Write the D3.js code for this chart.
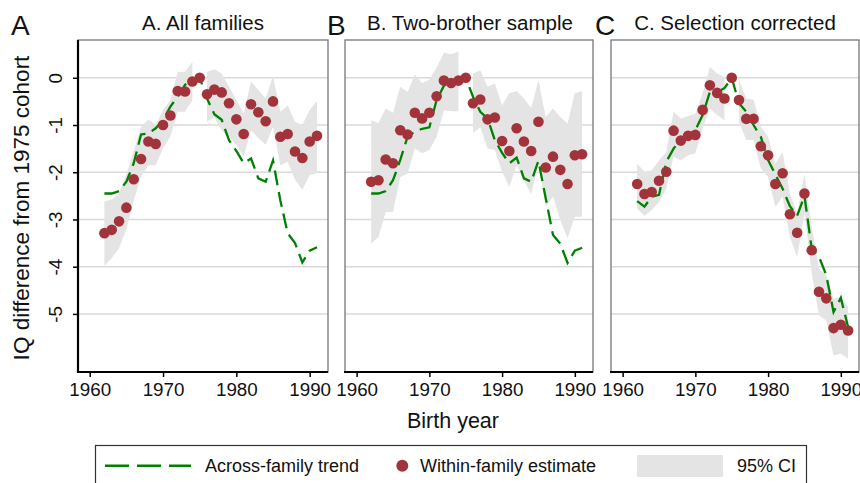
<!DOCTYPE html>
<html>
<head>
<meta charset="utf-8">
<script src="https://cdn.jsdelivr.net/npm/d3@7"></script>
<style>
  body { margin: 0; background: #fff; }
  svg { display: block; }
  text { font-family: 'Liberation Sans', Arial, Helvetica, sans-serif; fill: #111; }
</style>
</head>
<body>
<svg id="chart" width="860" height="483"></svg>
<script>
// birth cohorts
const years = [1962, 1963, 1964, 1965, 1966, 1967, 1968, 1969, 1970, 1971,
               1972, 1973, 1974, 1975, 1976, 1977, 1978, 1979, 1980, 1981,
               1982, 1983, 1984, 1985, 1986, 1987, 1988, 1989, 1990, 1991];

// A. All families
const aEst   = [-3.29, -3.22, -3.04, -2.75, -2.15, -1.72, -1.35, -1.40, -1.00, -0.80,
                -0.28, -0.29, -0.08, 0, -0.35, -0.25, -0.31, -0.54, -0.88, -1.19,
                -0.56, -0.73, -0.92, -0.50, -1.25, -1.19, -1.56, -1.70, -1.35, -1.23];
const aTrend = [-2.45, -2.45, -2.40, -2.20, -1.81, -1.20, -1.18, -1.07, -0.89, -0.61,
                -0.40, -0.15, -0.05, 0, -0.44, -0.77, -0.89, -1.32, -1.55, -1.81,
                -1.71, -2.13, -2.20, -1.75, -2.60, -3.29, -3.50, -3.91, -3.66, -3.59];
const aHi    = [-2.62, -2.57, -2.45, -2.05, -1.55, -1.04, -0.88, -1.00, -0.68, -0.47,
                0.13, 0.13, 0.34, null, 0.13, 0.18, 0.09, -0.19, -0.47, -0.75,
                -0.08, -0.26, -0.44, 0.04, -0.72, -0.58, -0.93, -1.00, -0.68, -0.49];
const aLo    = [-3.98, -3.82, -3.61, -3.20, -2.60, -2.10, -1.85, -1.85, -1.49, -1.25,
                -0.72, -0.72, -0.47, null, -0.93, -0.84, -1.11, -1.25, -1.42, -1.67,
                -1.11, -1.28, -1.42, -1.04, -1.85, -1.78, -2.16, -2.37, -2.06, -2.02];

// B. Two-brother sample
const bEst   = [-2.20, -2.17, -1.73, -1.81, -1.11, -1.20, -0.74, -0.86, -0.74, -0.39,
                -0.06, -0.11, -0.06, 0, -0.54, -0.46, -0.88, -0.84, -1.34, -1.55,
                -1.07, -1.35, -1.55, -0.93, -1.90, -1.67, -1.95, -2.25, -1.64, -1.62];
const bTrend = [-2.45, -2.45, -2.40, -2.17, -1.74, -1.25, -1.14, -1.08, -1.05, -0.47,
                -0.17, -0.06, -0.04, 0, -0.40, -0.72, -0.86, -1.32, -1.59, -1.81,
                -1.69, -2.13, -2.20, -1.76, -2.55, -3.33, -3.51, -3.92, -3.66, -3.60];
const bHi    = [-0.90, -0.96, -0.65, -0.74, -0.19, -0.30, 0.07, -0.11, -0.04, 0.22,
                0.53, 0.50, 0.55, null, 0.09, 0.16, -0.19, -0.12, -0.58, -0.33,
                -0.28, -0.44, -0.64, -0.05, -0.83, -0.65, -0.83, -0.97, -0.33, -0.28];
const bLo    = [-3.51, -3.37, -2.84, -2.84, -2.10, -2.03, -1.50, -1.60, -1.53, -1.25,
                -0.69, -0.71, -0.71, null, -1.17, -1.05, -1.50, -1.53, -1.99, -2.31,
                -1.85, -2.17, -2.46, -1.81, -2.73, -2.52, -3.01, -3.40, -2.94, -2.94];

// C. Selection corrected
const cEst   = [-2.25, -2.46, -2.42, -2.18, -1.99, -1.12, -1.33, -1.23, -1.21, -0.68,
                -0.16, -0.32, -0.44, 0, -0.47, -0.87, -0.87, -1.45, -1.64, -2.25,
                -2.02, -2.89, -3.28, -2.45, -3.65, -4.53, -4.67, -5.30, -5.23, -5.35];
const cTrend = [-2.61, -2.73, -2.52, -2.48, -1.78, -1.50, -1.32, -1.21, -1.11, -0.79,
                -0.30, -0.30, -0.22, 0, -0.54, -0.72, -1.00, -1.25, -1.74, -2.05,
                -2.35, -2.72, -2.92, -2.50, -3.62, -3.79, -4.18, -4.96, -4.66, -5.28];
const cHi    = [-1.82, -1.99, -1.96, -1.75, -1.57, -0.72, -0.86, -0.81, -0.76, -0.33,
                0.23, 0.09, 0.02, null, -0.05, -0.44, -0.46, -1.04, -1.25, -1.82,
                -1.57, -2.45, -2.87, -2.03, -3.16, -4.04, -4.18, -4.68, -4.64, -4.85];
const cLo    = [-2.77, -2.92, -2.80, -2.63, -2.35, -1.67, -1.75, -1.64, -1.60, -1.07,
                -0.65, -0.79, -0.90, null, -0.93, -1.32, -1.32, -1.92, -2.10, -2.73,
                -2.52, -3.37, -3.80, -2.87, -4.14, -5.03, -5.14, -5.88, -5.84, -5.95];

const xTicks = [1960, 1970, 1980, 1990];
const yTicks = [-5, -4, -3, -2, -1, 0];
const legendLabels = ["Across-family trend", "Within-family estimate", "95% CI"];

const GREEN = "#008000";
const RED = "#a3333a";
const BAND = "#e4e4e4";
const GRID = "#dadada";
const FRAME = "#777";

const svg = d3.select("#chart");
svg.append("rect").attr("width", 860).attr("height", 483).attr("fill", "#fff");

const plotTop = 40, plotBottom = 372;
const y = d3.scaleLinear().domain([-6.23, 0.8]).range([plotBottom, plotTop]);

const panels = [
  { letter: "A", title: "A. All families",        left: 78,  width: 250, est: aEst, trend: aTrend, lo: aLo, hi: aHi, letterX: 11,  titleX: 203 },
  { letter: "B", title: "B. Two-brother sample",  left: 345, width: 248, est: bEst, trend: bTrend, lo: bLo, hi: bHi, letterX: 327, titleX: 470 },
  { letter: "C", title: "C. Selection corrected", left: 611, width: 248, est: cEst, trend: cTrend, lo: cLo, hi: cHi, letterX: 595, titleX: 735 }
];

panels.forEach((p, pi) => {
  const x = d3.scaleLinear().domain([1958.4, 1992.5]).range([p.left, p.left + p.width]);
  const rows = years.map((yr, i) => ({ yr, est: p.est[i], trend: p.trend[i], lo: p.lo[i], hi: p.hi[i] }));
  const g = svg.append("g");

  // gridlines
  g.selectAll("line.grid")
    .data(yTicks)
    .enter()
    .append("line")
    .attr("x1", p.left).attr("x2", p.left + p.width)
    .attr("y1", d => y(d)).attr("y2", d => y(d))
    .attr("stroke", GRID)
    .attr("stroke-width", 1.5);

  // CI band (no interval for the 1975 reference cohort)
  const area = d3.area()
    .defined(d => d.lo != null)
    .x(d => x(d.yr))
    .y0(d => y(d.lo))
    .y1(d => y(d.hi));
  g.append("path")
    .datum(rows)
    .attr("d", area)
    .attr("fill", BAND);

  // across-family trend
  const line = d3.line()
    .x(d => x(d.yr))
    .y(d => y(d.trend));
  g.append("path")
    .datum(rows)
    .attr("d", line)
    .attr("fill", "none")
    .attr("stroke", GREEN)
    .attr("stroke-width", 2.3)
    .attr("stroke-dasharray", "15,7");

  // within-family estimates
  g.selectAll("circle")
    .data(rows)
    .enter()
    .append("circle")
    .attr("cx", d => x(d.yr))
    .attr("cy", d => y(d.est))
    .attr("r", 5.3)
    .attr("fill", RED);

  // frame
  g.append("rect")
    .attr("x", p.left).attr("y", plotTop)
    .attr("width", p.width).attr("height", plotBottom - plotTop)
    .attr("fill", "none")
    .attr("stroke", FRAME)
    .attr("stroke-width", 1.3);

  // x axis
  const xa = svg.append("g")
    .attr("transform", `translate(0,${plotBottom})`)
    .call(d3.axisBottom(x).tickValues(xTicks).tickSize(5).tickFormat(d3.format("d")));
  xa.select(".domain").remove();
  xa.selectAll(".tick line").attr("stroke", "#000").attr("stroke-width", 1.5);
  xa.selectAll(".tick text")
    .attr("y", 24).attr("dy", 0)
    .style("font-size", "18.8px")
    .style("font-family", "'Liberation Sans', Arial, sans-serif")
    .attr("fill", "#111");
  svg.append("line")
    .attr("x1", p.left - 1).attr("x2", p.left + p.width)
    .attr("y1", plotBottom).attr("y2", plotBottom)
    .attr("stroke", "#000").attr("stroke-width", 2.2);

  // y axis only on the first panel
  if (pi === 0) {
    const ya = svg.append("g")
      .attr("transform", `translate(${p.left},0)`)
      .call(d3.axisLeft(y).tickValues(yTicks).tickSize(5).tickFormat(d => String(d)));
    ya.select(".domain").remove();
    ya.selectAll(".tick line").attr("stroke", "#000").attr("stroke-width", 1.5);
    ya.selectAll(".tick text")
      .attr("transform", "rotate(-90)")
      .attr("x", 0).attr("y", -16.5).attr("dy", 0)
      .attr("text-anchor", "middle")
      .style("font-size", "18.8px")
      .style("font-family", "'Liberation Sans', Arial, sans-serif")
      .attr("fill", "#111");
    svg.append("line")
      .attr("x1", p.left).attr("x2", p.left)
      .attr("y1", plotTop).attr("y2", plotBottom + 1)
      .attr("stroke", "#000").attr("stroke-width", 2.2);
  }

  // panel letter and title
  svg.append("text")
    .attr("x", p.letterX).attr("y", 35)
    .style("font-size", "28px")
    .text(p.letter);
  svg.append("text")
    .attr("x", p.titleX).attr("y", 30)
    .attr("text-anchor", "middle")
    .style("font-size", "20.5px")
    .text(p.title);
});

// axis titles
svg.append("text")
  .attr("transform", "translate(29,208) rotate(-90)")
  .attr("text-anchor", "middle")
  .style("font-size", "22.5px")
  .text("IQ difference from 1975 cohort");

svg.append("text")
  .attr("x", 453).attr("y", 428)
  .attr("text-anchor", "middle")
  .style("font-size", "21.5px")
  .text("Birth year");

// legend
const lg = svg.append("g");
lg.append("rect")
  .attr("x", 95.5).attr("y", 445.5)
  .attr("width", 711).attr("height", 50)
  .attr("fill", "#fff")
  .attr("stroke", "#333")
  .attr("stroke-width", 1.2);
lg.append("line")
  .attr("x1", 105).attr("x2", 191)
  .attr("y1", 465.7).attr("y2", 465.7)
  .attr("stroke", GREEN)
  .attr("stroke-width", 2.4)
  .attr("stroke-dasharray", "24,8");
lg.append("text")
  .attr("x", 205).attr("y", 472)
  .style("font-size", "18px")
  .text(legendLabels[0]);
lg.append("circle")
  .attr("cx", 402.3).attr("cy", 465.7)
  .attr("r", 6)
  .attr("fill", RED);
lg.append("text")
  .attr("x", 420).attr("y", 472)
  .style("font-size", "18px")
  .text(legendLabels[1]);
lg.append("rect")
  .attr("x", 637).attr("y", 455)
  .attr("width", 86).attr("height", 22)
  .attr("fill", BAND);
lg.append("text")
  .attr("x", 737).attr("y", 472)
  .style("font-size", "18px")
  .text(legendLabels[2]);
</script>
</body>
</html>
